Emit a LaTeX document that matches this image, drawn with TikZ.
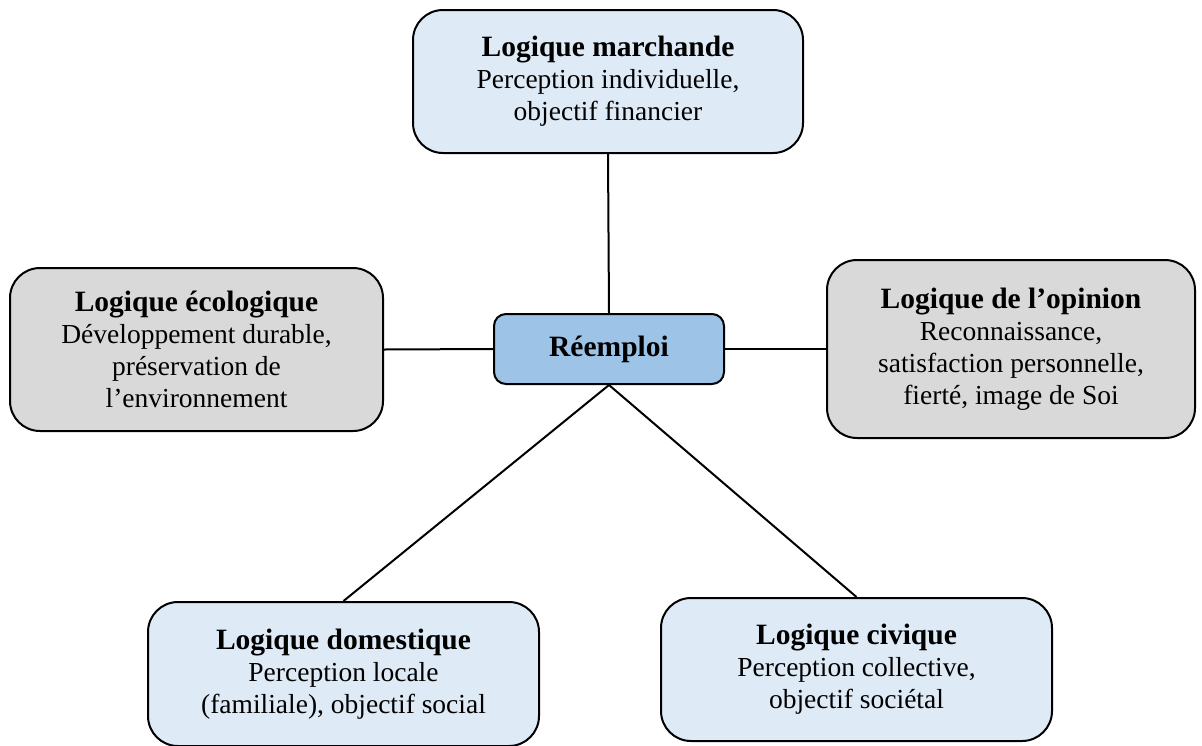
\documentclass[tikz,border=0pt]{standalone}
\usepackage{fontspec}
\setmainfont{Liberation Serif}
\definecolor{lightblue}{HTML}{DEEAF6}
\definecolor{lightgray}{HTML}{D9D9D9}
\definecolor{midblue}{HTML}{9DC3E6}
\newcommand{\ttl}[1]{{\fontsize{29.5}{32}\selectfont\bfseries #1}}
\tikzset{
  logic/.style={draw=black, line width=2pt, rounded corners=30pt, inner sep=0pt,
    align=center, font=\fontsize{27.5}{32}\selectfont},
  bluebox/.style={logic, fill=lightblue},
  graybox/.style={logic, fill=lightgray},
  hub/.style={draw=black, line width=2pt, rounded corners=12pt, fill=midblue, inner sep=0pt,
    minimum width=230pt, minimum height=70pt, font=\fontsize{29.5}{32}\selectfont\bfseries},
  link/.style={line width=2pt}
}
\begin{document}
\begin{tikzpicture}[x=1pt,y=1pt]
\useasboundingbox (0,0) rectangle (1202,-745);
\fill[white] (0,0) rectangle (1202,-745);
\node[bluebox, minimum width=390pt, minimum height=143pt] (m) at (608,-81.5)
  {\ttl{Logique marchande}\\Perception individuelle,\\objectif financier};
\node[graybox, minimum width=373pt, minimum height=163pt] (e) at (196.5,-349.5)
  {\ttl{Logique écologique}\\Développement durable,\\préservation de\\l’environnement};
\node[graybox, minimum width=368pt, minimum height=178pt] (o) at (1011,-349)
  {\ttl{Logique de l’opinion}\\Reconnaissance,\\satisfaction personnelle,\\fierté, image de Soi};
\node[hub] (r) at (609,-349) {Réemploi};
\node[bluebox, minimum width=391pt, minimum height=144pt] (d) at (343.5,-674)
  {\ttl{Logique domestique}\\Perception locale\\(familiale), objectif social};
\node[bluebox, minimum width=391pt, minimum height=143pt] (c) at (856.5,-669.5)
  {\ttl{Logique civique}\\Perception collective,\\objectif sociétal};
\draw[link] (m.south) -- (r.north);
\draw[link] (e.east) -- (r.west);
\draw[link] (r.east) -- (o.west);
\draw[link] (r.south) -- (d.north);
\draw[link] (r.south) -- (c.north);
\end{tikzpicture}
\end{document}
